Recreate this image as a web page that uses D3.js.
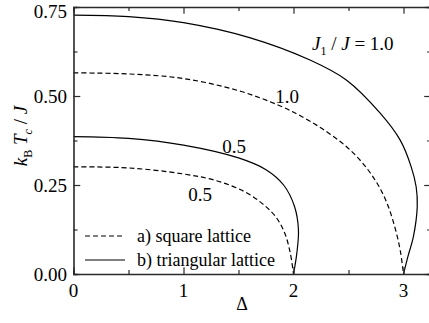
<!DOCTYPE html>
<html>
<head>
<meta charset="utf-8">
<script src="https://cdn.jsdelivr.net/npm/d3@7"></script>
<style>
  html, body { margin: 0; padding: 0; background: #fff; }
  svg { display: block; }
  svg text { font-family: "Liberation Serif", "Times New Roman", Times, serif; }
</style>
</head>
<body>
<svg id="chart" width="429" height="323"></svg>
<script>
// Critical temperature k_B T_c / J versus anisotropy Δ
const xTicks = [0, 1, 2, 3];
const yTicks = [0.00, 0.25, 0.50, 0.75];
const yTickLabels = ["0.00", "0.25", "0.50", "0.75"];

// square lattice (dashed), J1/J = 1.0 and 0.5
const square10 = [[0,0.565],[0.5,0.562],[1.0,0.549],[1.5,0.515],[1.88,0.472],[2.1,0.438],[2.3,0.400],[2.48,0.358],[2.63,0.311],[2.76,0.255],[2.85,0.199],[2.92,0.133],[2.97,0.067],[3.0,0]];
const square05 = [[0,0.301],[0.5,0.298],[1.0,0.281],[1.3,0.262],[1.55,0.232],[1.72,0.197],[1.84,0.160],[1.92,0.115],[1.97,0.060],[2.0,0]];
// triangular lattice (solid), J1/J = 1.0 and 0.5
const tri10 = [[0,0.727],[0.5,0.723],[1.0,0.706],[1.6,0.664],[2.15,0.601],[2.48,0.545],[2.79,0.451],[2.97,0.376],[3.07,0.301],[3.115,0.245],[3.125,0.19],[3.09,0.105],[3.04,0.049],[3.0,0]];
const tri05 = [[0,0.386],[0.5,0.381],[1.0,0.362],[1.5,0.326],[1.75,0.293],[1.91,0.250],[2.01,0.189],[2.045,0.124],[2.03,0.058],[2.0,0]];

const svg = d3.select("#chart");
const m = { left: 73.5, top: 7, bottom: 274 };
const x = d3.scaleLinear().domain([0, 3.25]).range([m.left, m.left + 3.25 * 110]);
const y = d3.scaleLinear().domain([0, 0.75]).range([m.bottom, m.top]);

const line = d3.line().x(d => x(d[0])).y(d => y(d[1])).curve(d3.curveCatmullRom.alpha(0.5));

// curves
const curves = [
  { data: square10, dash: "5,3" },
  { data: square05, dash: "5,3" },
  { data: tri10, dash: null },
  { data: tri05, dash: null }
];
svg.selectAll("path.curve").data(curves).join("path")
  .attr("class", "curve")
  .attr("d", d => line(d.data))
  .attr("fill", "none")
  .attr("stroke", "#000")
  .attr("stroke-width", 1.2)
  .attr("stroke-dasharray", d => d.dash);

// axes frame with inward ticks
const axisColor = "#2a2a2a";
const xMinor = d3.range(0, 3.26, 0.5);
const yMinor = d3.range(0, 0.751, 0.125);
const bottomAxis = d3.axisBottom(x).tickValues(xMinor).tickSize(-4).tickFormat("");
const topAxis = d3.axisTop(x).tickValues(xMinor).tickSize(-4).tickFormat("");
const leftAxis = d3.axisLeft(y).tickValues(yMinor).tickSize(-4).tickFormat("");
const rightAxis = d3.axisRight(y).tickValues(yMinor).tickSize(-4).tickFormat("");

function styleAxis(g, majors, isX) {
  g.select(".domain").attr("stroke", axisColor).attr("stroke-width", 1.6);
  g.selectAll(".tick line").attr("stroke", axisColor).attr("stroke-width", 1.2)
    .each(function(d) {
      const major = majors.some(v => Math.abs(v - d) < 1e-6);
      const sel = d3.select(this);
      if (major) {
        if (isX) sel.attr("y2", +sel.attr("y2") * 1.7);
        else sel.attr("x2", +sel.attr("x2") * 1.7);
      }
    });
}
svg.append("g").attr("transform", `translate(0,${m.bottom})`).call(bottomAxis).call(g => styleAxis(g, xTicks, true));
svg.append("g").attr("transform", `translate(0,${m.top})`).call(topAxis).call(g => styleAxis(g, xTicks, true));
svg.append("g").attr("transform", `translate(${m.left},0)`).call(leftAxis).call(g => styleAxis(g, yTicks, false));
svg.append("g").attr("transform", `translate(${x(3.25)},0)`).call(rightAxis).call(g => styleAxis(g, yTicks, false));

// tick labels (the top one is nudged down to stay inside the page)
svg.selectAll("text.xt").data(xTicks).join("text")
  .attr("class", "xt")
  .attr("x", d => x(d)).attr("y", 296.5)
  .attr("text-anchor", "middle")
  .attr("font-size", 19)
  .text(d => d);
svg.selectAll("text.yt").data(yTicks).join("text")
  .attr("class", "yt")
  .attr("x", 67).attr("y", d => Math.max(y(d) + 6.5, 17.5))
  .attr("text-anchor", "end")
  .attr("font-size", 19)
  .text((d, i) => yTickLabels[i]);

// axis titles
svg.append("text")
  .attr("x", 242).attr("y", 310).attr("text-anchor", "middle")
  .attr("font-size", 18).text("Δ");

const yl = svg.append("text")
  .attr("transform", "translate(27,136) rotate(-90)")
  .attr("text-anchor", "middle")
  .attr("font-size", 19);
yl.append("tspan").attr("font-style", "italic").text("k");
yl.append("tspan").attr("font-size", 12).attr("dy", 5).text("B");
yl.append("tspan").attr("dy", -5).text(" ");
yl.append("tspan").attr("font-style", "italic").text("T");
yl.append("tspan").attr("font-size", 12).attr("font-style", "italic").attr("dy", 5).text("c");
yl.append("tspan").attr("dy", -5).text(" / ");
yl.append("tspan").attr("font-style", "italic").text("J");

// curve labels
const t1 = svg.append("text")
  .attr("x", 312).attr("y", 50).attr("font-size", 19);
t1.append("tspan").attr("font-style", "italic").text("J");
t1.append("tspan").attr("font-size", 12).attr("dy", 5).text("1");
t1.append("tspan").attr("dy", -5).text(" / ");
t1.append("tspan").attr("font-style", "italic").text("J");
t1.append("tspan").text(" = 1.0");

const curveLabels = [
  { text: "1.0", x: 287, y: 103 },
  { text: "0.5", x: 234, y: 153 },
  { text: "0.5", x: 200, y: 201 }
];
svg.selectAll("text.cl").data(curveLabels).join("text")
  .attr("class", "cl")
  .attr("x", d => d.x).attr("y", d => d.y)
  .attr("text-anchor", "middle")
  .attr("font-size", 19)
  .text(d => d.text);

// legend
const legend = [
  { label: "a) square lattice", dash: "5,3", y: 236 },
  { label: "b) triangular lattice", dash: null, y: 260 }
];
const lg = svg.selectAll("g.lg").data(legend).join("g").attr("class", "lg");
lg.append("line")
  .attr("x1", 85).attr("x2", 125)
  .attr("y1", d => d.y).attr("y2", d => d.y)
  .attr("stroke", "#000").attr("stroke-width", 1.2)
  .attr("stroke-dasharray", d => d.dash);
lg.append("text")
  .attr("x", 137).attr("y", d => d.y + 6)
  .attr("font-size", 18)
  .text(d => d.label);
</script>
</body>
</html>
